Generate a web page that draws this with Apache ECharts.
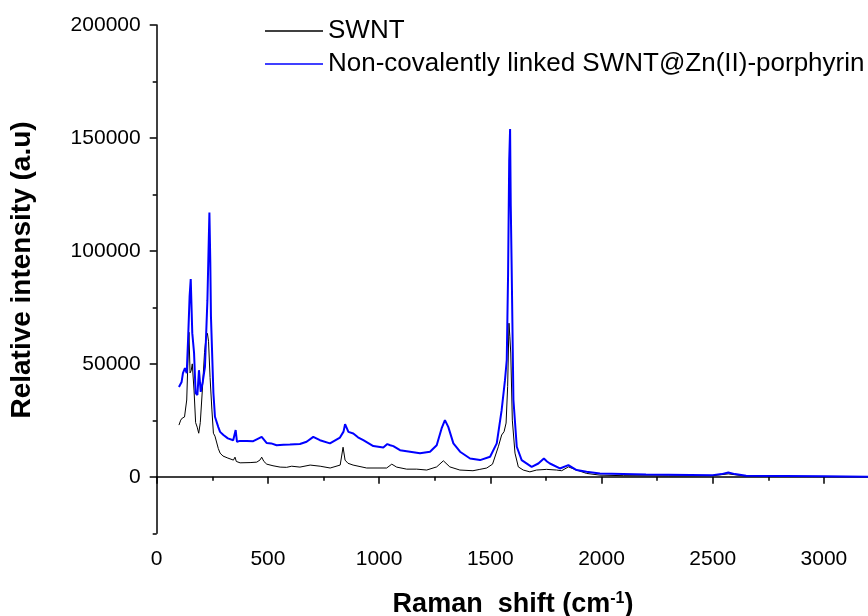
<!DOCTYPE html>
<html>
<head>
<meta charset="utf-8">
<script src="https://cdn.jsdelivr.net/npm/echarts@6/dist/echarts.min.js"></script>
<style>html,body{margin:0;padding:0;background:#fff;}#c{width:868px;height:616px;}</style>
</head>
<body>
<div id="c"></div>
<script>
var seriesNames = ['SWNT', 'Non-covalently linked SWNT@Zn(II)-porphyrin'];
var yTickLabels = [0, 50000, 100000, 150000, 200000];
var xTickLabels = [0, 500, 1000, 1500, 2000, 2500, 3000];

var swntShift = [100,108,115,125,135,140,145,150,155,160,168,175,182,189,196,205,215,222,228,233,240,248,255,262,270,277,285,298,320,345,352,358,375,420,450,465,472,482,495,523,555,584,607,644,690,735,780,825,838,847,860,883,944,995,1034,1057,1079,1124,1169,1214,1259,1289,1318,1363,1422,1453,1484,1510,1536,1551,1562,1571,1578,1584,1588,1592,1599,1611,1626,1648,1678,1708,1753,1798,1821,1851,1888,1933,1993,2100,2300,2500,2570,2650,2800,3000,3250];
var swntIntensity = [22900,25100,26000,26500,34000,50000,64000,46000,47000,50000,38000,24000,22000,19300,24000,38000,55000,62000,63500,60000,44000,30000,19300,18000,17600,12500,10500,9200,8300,7400,8700,6800,6200,6300,6500,7500,8700,6800,5600,4900,4300,4200,4700,4300,5200,4700,3900,5200,13100,7400,6000,5200,3900,3900,3900,5600,4300,3400,3400,3000,4400,7100,4400,3000,2700,3300,3900,5600,13300,18500,20000,23800,40000,68000,62000,54800,25100,10500,4400,3000,2200,3000,3300,3000,2700,4400,3000,1500,750,500,400,500,1300,300,200,100,0];

var porphShift = [100,112,118,127,135,141,148,153,160,168,175,183,190,198,207,217,228,233,237,241,244,255,262,270,277,285,300,320,344,352,355,361,374,405,434,450,472,494,515,539,570,599,644,674,704,734,779,824,840,847,862,884,905,929,974,1019,1037,1050,1064,1094,1139,1184,1229,1259,1281,1296,1311,1334,1364,1409,1454,1499,1529,1551,1566,1574,1580,1585,1589,1592,1596,1604,1619,1641,1686,1716,1741,1755,1768,1813,1851,1888,1933,1993,2000,2200,2500,2540,2570,2600,2650,3000,3250];
var porphIntensity = [39800,42000,45900,48100,45900,60500,80000,87500,63600,54800,37100,36200,47200,37600,42000,48700,78200,100000,117000,95000,70800,37100,26600,27300,22000,19900,18500,17000,16200,16500,20700,15500,15900,15900,15800,16600,17700,15000,14800,14000,14200,14300,14500,15500,17700,16200,14800,17400,20000,23300,19900,19200,17500,16200,13600,13000,14500,14000,13600,11800,11100,10400,11100,14000,21400,25100,22100,14800,11100,8100,7400,8900,14800,29500,42800,51700,90000,140000,154000,120000,93000,34000,13300,7400,4400,5900,8100,6800,5900,3700,5200,3000,2200,1500,1200,1000,750,1200,1900,1200,450,300,0];

function zip(a, b) { return a.map(function (v, i) { return [v, b[i]]; }); }

var FONT = "'Liberation Sans', Arial, sans-serif";
var chart = echarts.init(document.getElementById('c'), null, {renderer: 'canvas'});
chart.setOption({
  animation: false,
  backgroundColor: '#fff',
  grid: {left: 156.7, top: 25, bottom: 82.7, right: -67.1, containLabel: false, outerBoundsMode: 'none'},
  legend: {
    orient: 'vertical', left: 260, top: 11, itemWidth: 58, itemHeight: 1.5, itemGap: 3,
    icon: 'rect',
    textStyle: {fontFamily: FONT, fontSize: 26, color: '#000', lineHeight: 30, padding: [0, 0, 0, 0]},
    data: seriesNames
  },
  xAxis: {
    type: 'value', min: 0, max: 3500, interval: 500,
    axisLine: {show: true, lineStyle: {color: '#000', width: 1.5}},
    axisTick: {show: true, length: 7, lineStyle: {color: '#000', width: 1.5}},
    minorTick: {show: true, splitNumber: 2, length: 4, lineStyle: {color: '#000', width: 1.5}},
    axisLabel: {margin: 15, fontFamily: FONT, fontSize: 21, color: '#000',
      formatter: function (v) { return xTickLabels.indexOf(v) >= 0 ? String(v) : ''; }},
    splitLine: {show: false}
  },
  yAxis: [{
    type: 'value', min: -25000, max: 200000, interval: 25000,
    axisLine: {show: true, lineStyle: {color: '#000', width: 1.5}},
    axisTick: {show: true, length: 4, lineStyle: {color: '#000', width: 1.5}},
    axisLabel: {margin: 16, fontFamily: FONT, fontSize: 21, color: '#000',
      formatter: function (v) { return yTickLabels.indexOf(v) >= 0 ? String(v) : ''; }},
    splitLine: {show: false}
  }, {
    type: 'value', min: -25000, max: 200000, interval: 50000, position: 'left',
    axisLine: {show: false},
    axisTick: {show: true, length: 7, customValues: yTickLabels, lineStyle: {color: '#000', width: 1.5}},
    axisLabel: {show: false},
    splitLine: {show: false}
  }],
  graphic: [
    {type: 'text', x: 513, y: 605, style: {
      text: '{b|Raman  shift (cm}{s|-1}{b|)}', align: 'center', verticalAlign: 'middle',
      rich: {b: {fontFamily: FONT, fontSize: 27, fontWeight: 'bold', fill: '#000'},
             s: {fontFamily: FONT, fontSize: 16, fontWeight: 'bold', fill: '#000', verticalAlign: 'top', padding: [0, 0, 12, 0]}}
    }},
    {type: 'text', x: 22, y: 270, rotation: Math.PI / 2, style: {
      text: 'Relative intensity (a.u)', align: 'center', verticalAlign: 'middle',
      fontFamily: FONT, fontSize: 28, fontWeight: 'bold', fill: '#000'
    }}
  ],
  series: [{
    name: seriesNames[0], type: 'line', showSymbol: false, symbol: 'none',
    lineStyle: {color: '#000', width: 1}, itemStyle: {color: '#000'},
    data: zip(swntShift, swntIntensity), z: 2
  }, {
    name: seriesNames[1], type: 'line', showSymbol: false, symbol: 'none',
    lineStyle: {color: '#0000ff', width: 2}, itemStyle: {color: '#0000ff'},
    data: zip(porphShift, porphIntensity), z: 3
  }]
});
</script>
</body>
</html>
